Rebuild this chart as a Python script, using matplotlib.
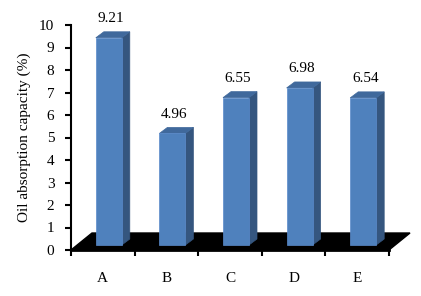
import matplotlib.pyplot as plt
from matplotlib.patches import Polygon

categories = ['A', 'B', 'C', 'D', 'E']
values = [9.21, 4.96, 6.55, 6.98, 6.54]
value_labels = ['9.21', '4.96', '6.55', '6.98', '6.54']

FRONT = '#4F81BD'
SIDE = '#35567F'
TOP = '#40699C'

plt.rcParams['font.family'] = ['Liberation Serif', 'DejaVu Serif']

fig = plt.figure(figsize=(4.21, 2.96), dpi=100)
ax = fig.add_axes([71/421, 46/296, 318/421, 225/296])
ax.set_xlim(-0.5, len(categories) - 0.5)
ax.set_ylim(0, 10)

# pixel -> data scale factors
px_x = (len(categories)) / 318.0
px_y = 10 / 225.0

# black floor (3d depth)
fdx, fdy = 21 * px_x, 17 * px_y
x0, x1 = -0.5, len(categories) - 0.5
floor = Polygon([(x0, 0), (x1, 0), (x1 + fdx, fdy), (x0 + fdx, fdy)],
                closed=True, fc='black', ec='black', clip_on=False, zorder=1)
ax.add_patch(floor)

# bars as front/side/top faces
w = 26 * px_x
ox, oy = 6 * px_x, 5 * px_y
sdx, sdy = 8 * px_x, 6 * px_y
for i, v in enumerate(values):
	l = i - w/2 + ox
	r = i + w/2 + ox
	b = oy
	t = oy + v
	side = Polygon([(r, b), (r + sdx, b + sdy), (r + sdx, t + sdy), (r, t)],
				   fc=SIDE, ec=SIDE, lw=0.5, clip_on=False, zorder=3)
	top = Polygon([(l, t), (r, t), (r + sdx, t + sdy), (l + sdx, t + sdy)],
				  fc=TOP, ec=TOP, lw=0.5, clip_on=False, zorder=3)
	front = Polygon([(l, b), (r, b), (r, t), (l, t)],
					fc=FRONT, ec='#5A8ACB', lw=0.5, clip_on=False, zorder=4)
	for p in (side, top, front):
		ax.add_patch(p)
	ax.text(i + ox + sdx/2 - 0.03, t + sdy + 0.3, value_labels[i], ha='center', va='bottom',
			fontsize=11, clip_on=False)

ax.spines['top'].set_visible(False)
ax.spines['right'].set_visible(False)
ax.spines['left'].set_linewidth(1.5)
ax.spines['bottom'].set_linewidth(2)

ax.set_yticks(range(0, 11))
ax.tick_params(axis='y', direction='out', length=4, width=1.5, pad=8, labelsize=11)
ax.set_xticks(range(len(categories)))
ax.set_xticklabels(categories, fontsize=11)
ax.tick_params(axis='x', which='major', length=0, pad=16)
ax.set_xticks([k - 0.5 for k in range(len(categories) + 1)], minor=True)
ax.tick_params(axis='x', which='minor', direction='out', length=4, width=1.5)

ax.set_ylabel('Oil absorption capacity (%)', fontsize=11, labelpad=6)

fig.savefig('out.png', dpi=100)
